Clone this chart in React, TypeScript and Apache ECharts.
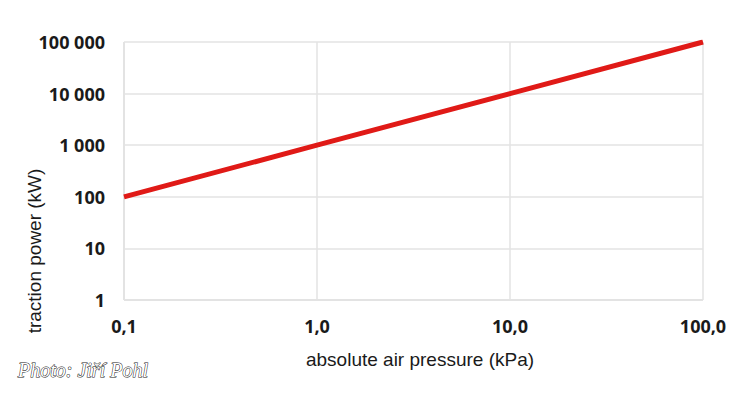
import React, { useEffect, useRef } from "react";
import * as echarts from "echarts";

const pressureKPa = [0.1, 1, 10, 100];
const tractionPowerKW = [100, 1000, 10000, 100000];
const xTickLabels: Record<string, string> = { "0.1": "0,1", "1": "1,0", "10": "10,0", "100": "100,0" };
const yTickLabels: Record<string, string> = {
  "1": "1",
  "10": "10",
  "100": "100",
  "1000": "1 000",
  "10000": "10 000",
  "100000": "100 000",
};
const xAxisTitle = "absolute air pressure (kPa)";
const yAxisTitle = "traction power (kW)";
const credit = "Photo: Jiří Pohl";

export default function App() {
  const ref = useRef<HTMLDivElement>(null);
  useEffect(() => {
    document.body.style.margin = "0";
    const chart = echarts.init(ref.current!, null, { renderer: "svg" });
    const labelFont = { fontFamily: "Open Sans", fontWeight: "bold" as const, fontSize: 18, color: "#1a1a1a" };
    chart.setOption({
      animation: false,
      backgroundColor: "#ffffff",
      grid: { left: 124, right: 50, top: 42, bottom: 93 },
      xAxis: {
        type: "log",
        logBase: 10,
        min: 0.1,
        max: 100,
        axisLine: { show: false },
        axisTick: { show: false },
        splitLine: { show: true, lineStyle: { color: "#e3e3e3", width: 1.5 } },
        axisLabel: {
          ...labelFont,
          margin: 17,
          formatter: (v: number) => xTickLabels[String(+v.toPrecision(6))] ?? String(v),
        },
      },
      yAxis: {
        type: "log",
        logBase: 10,
        min: 1,
        max: 100000,
        axisLine: { show: false },
        axisTick: { show: false },
        splitLine: { show: true, lineStyle: { color: "#e3e3e3", width: 1.5 } },
        axisLabel: {
          ...labelFont,
          margin: 19,
          formatter: (v: number) => yTickLabels[String(Math.round(v))] ?? String(v),
        },
      },
      series: [
        {
          type: "line",
          data: pressureKPa.map((x, i) => [x, tractionPowerKW[i]]),
          showSymbol: false,
          lineStyle: { color: "#e01a17", width: 5 },
        },
      ],
      graphic: [
        {
          type: "line",
          shape: { x1: 124, y1: 42, x2: 124, y2: 300 },
          style: { stroke: "#d9d9d9", lineWidth: 1.5 },
          z: 0,
        },
        {
          type: "line",
          shape: { x1: 124, y1: 300, x2: 703, y2: 300 },
          style: { stroke: "#d9d9d9", lineWidth: 1.5 },
          z: 0,
        },
        {
          type: "text",
          x: 420,
          y: 359,
          style: {
            text: xAxisTitle,
            font: '19px "Liberation Sans"',
            fill: "#1a1a1a",
            align: "center",
            verticalAlign: "middle",
          },
        },
        {
          type: "text",
          x: 34,
          y: 251,
          rotation: Math.PI / 2,
          style: {
            text: yAxisTitle,
            font: '19px "Liberation Sans"',
            fill: "#1a1a1a",
            align: "center",
            verticalAlign: "middle",
          },
        },
        {
          type: "text",
          x: 18,
          y: 370,
          style: {
            text: credit,
            font: 'italic 20px "Liberation Serif"',
            fill: "#ffffff",
            stroke: "#222222",
            lineWidth: 1,
            align: "left",
            verticalAlign: "middle",
          },
        },
      ],
    });
    return () => chart.dispose();
  }, []);
  return <div ref={ref} style={{ width: 753, height: 393 }} />;
}
